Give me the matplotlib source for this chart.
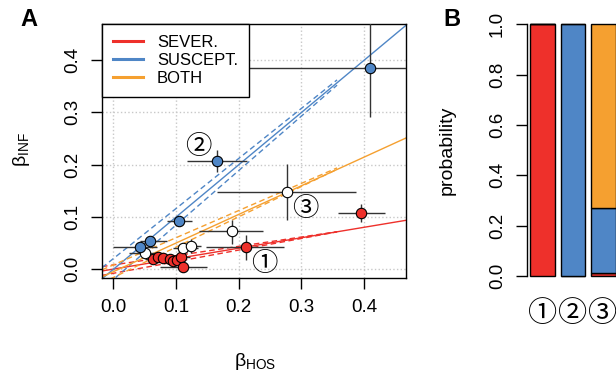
import numpy as np
import matplotlib
matplotlib.use("Agg")
import matplotlib.pyplot as plt
from matplotlib.lines import Line2D

plt.rcParams['font.family'] = ['Liberation Sans', 'DejaVu Sans', 'Noto Sans CJK JP']
plt.rcParams['mathtext.fontset'] = 'custom'
plt.rcParams['mathtext.rm'] = 'Liberation Sans'

RED = '#EE302B'
BLUE = '#4F86C6'
ORANGE = '#F5A030'
ERR = '#333333'
CIRC = ['Noto Sans CJK JP', 'DejaVu Sans']

# ---- panel A data (beta_HOS, beta_INF with lower/upper bounds)
sev_x = [0.063, 0.072, 0.080, 0.090, 0.096, 0.101, 0.108, 0.111, 0.211, 0.396]
sev_y = [0.020, 0.024, 0.021, 0.019, 0.015, 0.017, 0.024, 0.005, 0.043, 0.108]
sev_xlo = [0.050, 0.058, 0.066, 0.076, 0.082, 0.087, 0.094, 0.075, 0.148, 0.359]
sev_xhi = [0.078, 0.086, 0.094, 0.104, 0.110, 0.115, 0.122, 0.149, 0.273, 0.433]
sev_ylo = [0.014, 0.018, 0.015, 0.013, 0.009, 0.011, 0.017, -0.006, 0.017, 0.091]
sev_yhi = [0.026, 0.030, 0.027, 0.025, 0.021, 0.023, 0.031, 0.015, 0.065, 0.124]

sus_x = [0.042, 0.058, 0.105, 0.165, 0.409]
sus_y = [0.043, 0.054, 0.0925, 0.207, 0.384]
sus_xlo = [0.000, 0.043, 0.086, 0.117, -0.10]
sus_xhi = [0.070, 0.085, 0.126, 0.214, 0.60]
sus_ylo = [0.036, 0.047, 0.085, 0.185, 0.292]
sus_yhi = [0.050, 0.062, 0.100, 0.228, 0.60]

both_x = [0.050, 0.111, 0.124, 0.189, 0.277]
both_y = [0.031, 0.040, 0.044, 0.073, 0.1475]
both_xlo = [0.025, 0.095, 0.110, 0.136, 0.165]
both_xhi = [0.075, 0.135, 0.140, 0.239, 0.388]
both_ylo = [0.025, 0.032, 0.030, 0.048, 0.094]
both_yhi = [0.040, 0.050, 0.058, 0.094, 0.2006]

# fitted lines: (slope, intercept), dashed bounds as (slope, intercept)
fit_sev = (0.200, 0.000)
fit_sus = (1.000, -0.0005)
fit_both = (0.548, -0.005)
ci_sev = [(0.178, 0.008), (0.222, -0.008)]
ci_sus = [(0.958, 0.020), (1.042, -0.020)]
ci_both = [(0.520, 0.008), (0.580, -0.016)]
ci_xmax = 0.357

# ---- panel B data
classes = ['①', '②', '③']
p_sev = [1.0, 0.0, 0.01]
p_sus = [0.0, 1.0, 0.259]
p_both = [0.0, 0.0, 0.731]

W, H = 616, 372
fig = plt.figure(figsize=(W / 100, H / 100), dpi=100)

ax = fig.add_axes([102 / W, 1 - 278 / H, (406 - 102) / W, (278 - 24) / H])
ax.set_xlim(-0.018, 0.467)
ax.set_ylim(-0.017, 0.469)
ticks = [0.0, 0.1, 0.2, 0.3, 0.4]
ax.set_xticks(ticks)
ax.set_yticks(ticks)
ax.set_xticklabels([f'{t:.1f}' for t in ticks], fontsize=13.5)
ax.set_yticklabels([f'{t:.1f}' for t in ticks], fontsize=13.5, rotation=90, va='center')
ax.tick_params(length=8, width=1, pad=7)
for s in ax.spines.values():
    s.set_linewidth(1)
ax.grid(True, color='#C8C8C8', linestyle=':', linewidth=1)
ax.set_axisbelow(True)

xx = np.array([-0.018, 0.467])
xc = np.array([-0.018, ci_xmax])
for fit, ci, col in [(fit_sev, ci_sev, RED), (fit_sus, ci_sus, BLUE), (fit_both, ci_both, ORANGE)]:
    ax.plot(xx, fit[0] * xx + fit[1], color=col, lw=1, zorder=2)
    for s, b in ci:
        ax.plot(xc, s * xc + b, color=col, lw=1, dashes=(4, 2.5), zorder=2)

for xs, ys, xlo, xhi, ylo, yhi, fc in [
        (sev_x, sev_y, sev_xlo, sev_xhi, sev_ylo, sev_yhi, RED),
        (both_x, both_y, both_xlo, both_xhi, both_ylo, both_yhi, 'white'),
        (sus_x, sus_y, sus_xlo, sus_xhi, sus_ylo, sus_yhi, BLUE)]:
    xs, ys = np.array(xs), np.array(ys)
    xerr = [xs - np.array(xlo), np.array(xhi) - xs]
    yerr = [ys - np.array(ylo), np.array(yhi) - ys]
    ax.errorbar(xs, ys, xerr=xerr, yerr=yerr, fmt='none', ecolor=ERR, elinewidth=1, zorder=3)
    ax.plot(xs, ys, 'o', ms=7.5, mfc=fc, mec='black', mew=0.8, zorder=4, ls='none')

ax.text(0.135, 0.234, '②', fontsize=19, family=CIRC, ha='center', va='center')
ax.text(0.306, 0.116, '③', fontsize=19, family=CIRC, ha='center', va='center')
ax.text(0.241, 0.011, '①', fontsize=19, family=CIRC, ha='center', va='center')

handles = [Line2D([], [], color=RED, lw=2.2),
           Line2D([], [], color=BLUE, lw=2.2),
           Line2D([], [], color=ORANGE, lw=2.2)]
leg = ax.legend(handles, ['SEVER.', 'SUSCEPT.', 'BOTH'], loc='upper left',
                bbox_to_anchor=(0, 1), borderaxespad=0, fancybox=False,
                edgecolor='black', framealpha=1, fontsize=12,
                handlelength=1.8, handletextpad=0.85, labelspacing=0.18,
                borderpad=0.65)
leg.get_frame().set_linewidth(1)
leg.set_zorder(10)

fig.text(255 / W, 1 - 361 / H, r'β$_{\mathregular{HOS}}$', fontsize=14, ha='center', va='center')
fig.text(21 / W, 1 - 150 / H, r'β$_{\mathregular{INF}}$', fontsize=14, ha='center', va='center', rotation=90)
fig.text(29 / W, 1 - 20 / H, 'A', fontsize=17, fontweight='bold', ha='center', va='center')

# ---- panel B
ax2 = fig.add_axes([526.7 / W, 1 - 276 / H, (616 - 526.7) / W, (276 - 24.3) / H])
pos = np.arange(3)
ax2.set_xlim(-0.543, 2.433)
ax2.set_ylim(0, 1)
kw = dict(width=0.833, edgecolor='black', linewidth=1, clip_on=False)
ax2.bar(pos, p_sev, color=RED, **kw)
ax2.bar(pos, p_sus, bottom=p_sev, color=BLUE, **kw)
ax2.bar(pos, p_both, bottom=np.array(p_sev) + np.array(p_sus), color=ORANGE, **kw)
for s in ['top', 'right', 'bottom']:
    ax2.spines[s].set_visible(False)
ax2.spines['left'].set_linewidth(1)
ax2.set_xticks([])
bt = [0.0, 0.2, 0.4, 0.6, 0.8, 1.0]
ax2.set_yticks(bt)
ax2.set_yticklabels([f'{t:.1f}' for t in bt], fontsize=13.5, rotation=90, va='center')
ax2.tick_params(length=8, width=1, pad=7)
for p, c in zip(pos, classes):
    ax2.text(p, -0.15, c, fontsize=21, family=CIRC, ha='center', va='center', clip_on=False)
fig.text(447 / W, 1 - 150 / H, 'probability', fontsize=14, ha='center', va='center', rotation=90)
fig.text(452 / W, 1 - 20 / H, 'B', fontsize=17, fontweight='bold', ha='center', va='center')

fig.savefig('out.png', dpi=100)
